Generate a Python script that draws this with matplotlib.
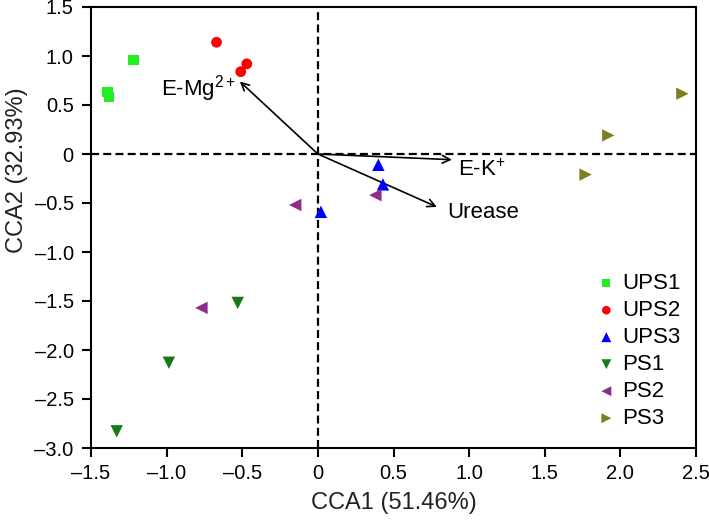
import matplotlib
matplotlib.use("Agg")
import matplotlib.pyplot as plt
from matplotlib.ticker import FuncFormatter, MultipleLocator

plt.rcParams['font.family'] = ['Liberation Sans', 'DejaVu Sans']
plt.rcParams['mathtext.fontset'] = 'custom'
plt.rcParams['mathtext.rm'] = 'Liberation Sans'
plt.rcParams['mathtext.it'] = 'Liberation Sans'

groups = ["UPS1", "UPS2", "UPS3", "PS1", "PS2", "PS3"]
ups1_x = [-1.22, -1.39, -1.38]
ups1_y = [0.96, 0.63, 0.585]
ups2_x = [-0.67, -0.47, -0.51]
ups2_y = [1.14, 0.92, 0.84]
ups3_x = [0.40, 0.43, 0.02]
ups3_y = [-0.11, -0.31, -0.59]
ps1_x = [-0.53, -0.985, -1.33]
ps1_y = [-1.52, -2.13, -2.83]
ps2_x = [-0.15, 0.38, -0.77]
ps2_y = [-0.52, -0.42, -1.57]
ps3_x = [2.41, 1.92, 1.77]
ps3_y = [0.615, 0.19, -0.21]

env_names = ["E-Mg$^{\\mathregular{2+}}$", "E-K$^{\\mathregular{+}}$", "Urease"]
env_x = [-0.516, 0.886, 0.787]
env_y = [0.74, -0.058, -0.54]

xs = [ups1_x, ups2_x, ups3_x, ps1_x, ps2_x, ps3_x]
ys = [ups1_y, ups2_y, ups3_y, ps1_y, ps2_y, ps3_y]
markers = ["s", "o", "^", "v", "<", ">"]
sizes = [55, 60, 80, 80, 80, 80]
colors = ["#22ee22", "#ff0000", "#0000ff", "#1a7a1a", "#8e2c8e", "#7f7f22"]

fig = plt.figure(figsize=(7.09, 5.20), dpi=100)
ax = fig.add_axes([91/709, 1 - 448/520, 605/709, 441/520])

ax.axhline(0, color="black", lw=1.6, ls=(0, (3.6, 1.9)), zorder=1)
ax.axvline(0, color="black", lw=1.6, ls=(0, (3.6, 1.9)), zorder=1)

for g, x, y, m, sz, c in zip(groups, xs, ys, markers, sizes, colors):
    ax.scatter(x, y, marker=m, s=sz, color=c, edgecolors="none", label=g, zorder=3)

for ex, ey in zip(env_x, env_y):
    ax.annotate("", xy=(ex, ey), xytext=(0, 0),
                arrowprops=dict(arrowstyle="->", color="black", lw=1.2,
                                shrinkA=0, shrinkB=0, mutation_scale=14), zorder=2)

ax.text(-0.54, 0.595, env_names[0], ha="right", va="baseline", fontsize=16)
ax.text(0.926, -0.22, env_names[1], ha="left", va="baseline", fontsize=16)
ax.text(0.853, -0.65, env_names[2], ha="left", va="baseline", fontsize=16)

ax.set_xlim(-1.5, 2.5)
ax.set_ylim(-3.0, 1.5)
ax.xaxis.set_major_locator(MultipleLocator(0.5))
ax.yaxis.set_major_locator(MultipleLocator(0.5))

def fmt(v, pos):
    if abs(v) < 1e-9:
        return "0"
    s = f"{v:.1f}"
    return s.replace("-", "\u2013")

ax.xaxis.set_major_formatter(FuncFormatter(fmt))
ax.yaxis.set_major_formatter(FuncFormatter(fmt))
ax.tick_params(direction="out", length=6.5, width=1.5, labelsize=14.5)
ax.tick_params(axis="x", pad=5)
ax.tick_params(axis="y", pad=6)
for sp in ax.spines.values():
    sp.set_linewidth(1.5)

ax.set_xlabel("CCA1 (51.46%)", fontsize=17, color="#222222")
ax.set_ylabel("CCA2 (32.93%)", fontsize=17, color="#222222")
ax.xaxis.set_label_coords(0.5, -0.100)
ax.yaxis.set_label_coords(-0.104, 0.63)

leg = ax.legend(loc="lower right", bbox_to_anchor=(0.974, 0.043), frameon=False,
                fontsize=16, handlelength=0.8, handletextpad=0.3,
                markerscale=0.8, labelspacing=0.27, borderpad=0, borderaxespad=0)

fig.savefig("out.png", dpi=100)
